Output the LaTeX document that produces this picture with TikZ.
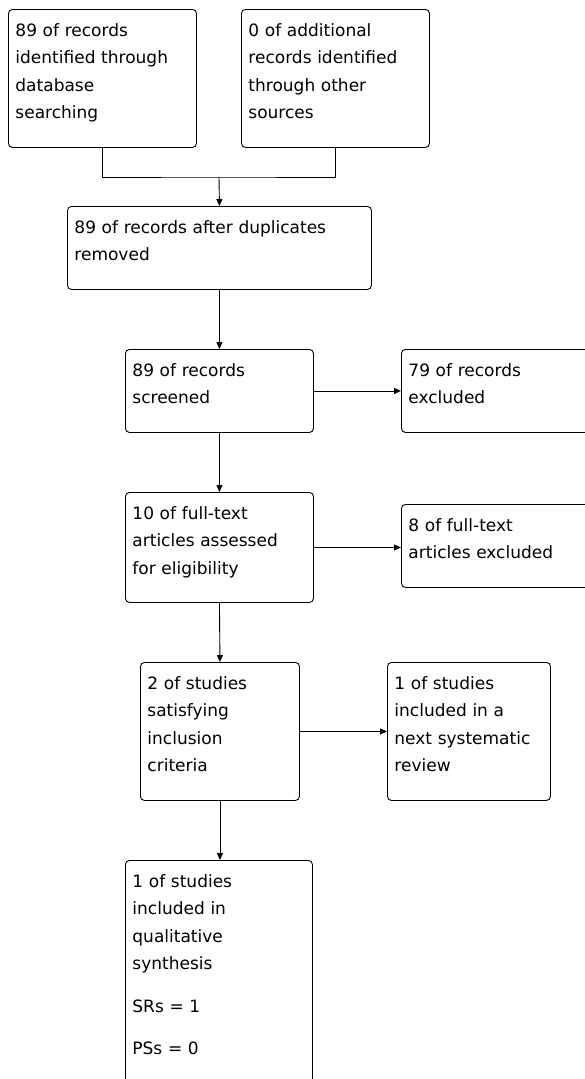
\documentclass[tikz,border=0pt]{standalone}
\usepackage{fontspec}
\setmainfont{DejaVu Sans}
\usetikzlibrary{arrows.meta}
\tikzset{
    rec/.style={draw, line width=0.9pt, rounded corners=4pt, anchor=north west,
            align=left, inner xsep=7pt, inner ysep=0pt, text height=27pt,
            font=\fontsize{17}{27.5}\selectfont},
    lnk/.style={line width=0.9pt},
    arr/.style={lnk, -{Triangle[length=7pt,width=6pt]}},
}

\begin{document}
\begin{tikzpicture}[x=1pt, y=-1pt]
        %canvas
        \useasboundingbox (0,0) rectangle (585,1079);
        \clip (0,0) rectangle (585,1079);
        %identification
        \node[rec, text width=174pt, text depth=111pt] (dbase) at (8,9) {89 of records\\identified through\\database\\searching};
        \node[rec, text width=174pt, text depth=111pt] (other) at (241,9) {0 of additional\\records identified\\through other\\sources};
        \node[rec, text width=290pt, text depth=56pt] (dupl) at (67,206) {89 of records after duplicates\\removed};
        %screening
        \node[rec, text width=174pt, text depth=56pt] (screen) at (125,349) {89 of records\\screened};
        \node[rec, text width=200pt, text depth=56pt] (recex) at (401,349) {79 of records\\excluded};
        %eligibility
        \node[rec, text width=174pt, text depth=83pt] (full) at (125,492) {10 of full-text\\articles assessed\\for eligibility};
        \node[rec, text width=200pt, text depth=56pt] (fullex) at (401,504) {8 of full-text\\articles excluded};
        %included
        \node[rec, text width=145pt, text depth=111pt] (incl) at (140,662) {2 of studies\\satisfying\\inclusion\\criteria};
        \node[rec, text width=149pt, text depth=111pt] (next) at (387,662) {1 of studies\\included in a\\next systematic\\review};
        \node[rec, text width=173pt, text depth=213pt] (qual) at (125,860) {1 of studies\\included in\\qualitative\\synthesis\\[15pt]SRs = 1\\[15pt]PSs = 0};
        %connectors
        \coordinate (merge) at (219,177);
        \draw[lnk] (dbase.south) |- (merge) -| (other.south);
        \draw[arr] (merge) -- (dupl.north);
        \draw[arr] (dupl.south) -- (screen.north);
        \draw[arr] (screen.east) -- (recex.west);
        \draw[arr] (screen.south) -- (full.north);
        \draw[arr] (full.east) -- (full.east -| fullex.west);
        \draw[arr] (full.south) -- (incl.north);
        \draw[arr] (incl.east) -- (next.west);
        \draw[arr] (incl.south) -- (incl.south |- qual.north);
    \end{tikzpicture}
\end{document}
